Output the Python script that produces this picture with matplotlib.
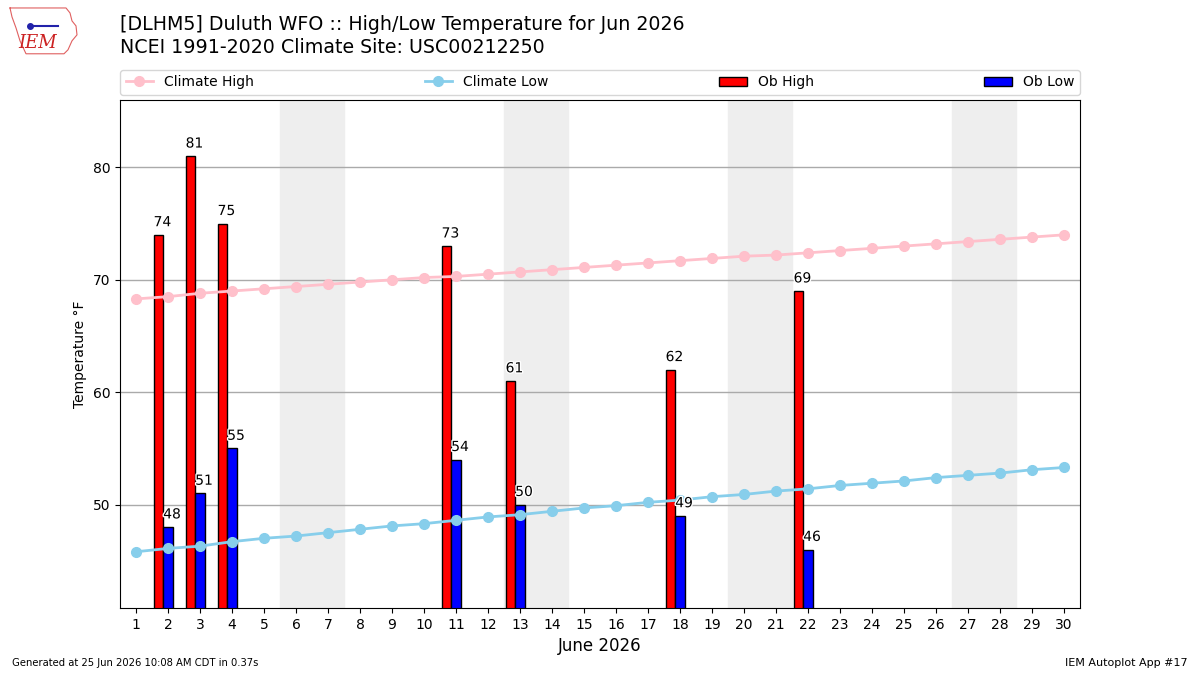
import numpy as np
import matplotlib
matplotlib.use("Agg")
import matplotlib.pyplot as plt
import matplotlib.patheffects as PathEffects

# Giorni del mese e medie climatologiche
days = np.arange(1, 31)
climate_high = [68.3, 68.5, 68.8, 69.0, 69.2, 69.4, 69.6, 69.8, 70.0, 70.2,
                70.3, 70.5, 70.7, 70.9, 71.1, 71.3, 71.5, 71.7, 71.9, 72.1,
                72.2, 72.4, 72.6, 72.8, 73.0, 73.2, 73.4, 73.6, 73.8, 74.0]
climate_low = [45.8, 46.1, 46.3, 46.7, 47.0, 47.2, 47.5, 47.8, 48.1, 48.3,
               48.6, 48.9, 49.1, 49.4, 49.7, 49.9, 50.2, 50.4, 50.7, 50.9,
               51.2, 51.4, 51.7, 51.9, 52.1, 52.4, 52.6, 52.8, 53.1, 53.3]

# Osservazioni disponibili
ob_days = [2, 3, 4, 11, 13, 18, 22]
ob_high = [74, 81, 75, 73, 61, 62, 69]
ob_low = [48, 51, 55, 54, 50, 49, 46]

# Fine settimana (sabato) da ombreggiare
weekend_starts = [6, 13, 20, 27]

fig = plt.figure(figsize=(12, 6.75), dpi=100)
ax = fig.add_axes([0.1, 0.0993, 0.8, 0.7526])

for d in weekend_starts:
    ax.axvspan(d - 0.5, d + 1.5, color="#eeeeee", zorder=0)

ax.grid(True, axis="y", color="#aaaaaa", linewidth=1, zorder=1)
ax.set_axisbelow(True)

ax.plot(days, climate_high, color="pink", marker="o", markersize=7,
        linewidth=2, label="Climate High", zorder=3)
ax.plot(days, climate_low, color="skyblue", marker="o", markersize=7,
        linewidth=2, label="Climate Low", zorder=3)

ob_x = np.array(ob_days, dtype=float)
ax.bar(ob_x - 0.3, ob_high, width=0.3, color="r", edgecolor="k",
       label="Ob High", zorder=2)
ax.bar(ob_x, ob_low, width=0.3, color="b", edgecolor="k",
       label="Ob Low", zorder=2)

# Etichette con i valori sopra le barre
for x, hi, lo in zip(ob_x, ob_high, ob_low):
    for xx, val in ((x - 0.45, hi), (x - 0.15, lo)):
        t = ax.text(xx, val + 0.5, f"{val}", ha="left", va="bottom",
                    fontsize=10, zorder=4)
        t.set_path_effects([PathEffects.withStroke(linewidth=2,
                                                   foreground="white")])

ax.set_xlim(0.5, 30.5)
ax.set_ylim(40.8, 86)
ax.set_xticks(days)
ax.set_yticks([50, 60, 70, 80])
ax.set_ylabel("Temperature \u00b0F")
ax.set_xlabel("June 2026", fontsize=12)

ax.legend(loc="lower left", bbox_to_anchor=(0, 1.01, 1, 0.05), ncol=4,
          mode="expand", borderaxespad=0, fontsize=10)

fig.text(0.1, 0.978, "[DLHM5] Duluth WFO :: High/Low Temperature for Jun 2026\n"
         "NCEI 1991-2020 Climate Site: USC00212250",
         fontsize=13.7, va="top", ha="left", linespacing=1.3)

fig.text(0.01, 0.01, "Generated at 25 Jun 2026 10:08 AM CDT in 0.37s",
         fontsize=8, ha="left", va="bottom", fontstretch="condensed")
fig.text(0.99, 0.01, "IEM Autoplot App #17", fontsize=8,
         ha="right", va="bottom")

# Logo IEM semplificato
lax = fig.add_axes([0.0, 0.91, 0.07, 0.09])
lax.set_xlim(0, 84)
lax.set_ylim(0, 61)
lax.axis("off")
outline_x = [10, 66, 70, 72, 76, 77, 72, 68, 64, 26, 20, 16, 12, 10]
outline_y = [53, 53, 48, 40, 35, 26, 20, 11, 7, 7, 20, 33, 44, 53]
lax.plot(outline_x, outline_y, color="#e06060", linewidth=0.8)
lax.plot([30, 58], [35, 35], color="#2222aa", linewidth=1.5)
lax.plot([30], [35], "o", color="#2222aa", markersize=4)
lax.text(38, 18, "IEM", color="#cc2222", fontsize=13,
         family="DejaVu Serif", style="italic", ha="center", va="center")

fig.savefig("out.png", dpi=100)
